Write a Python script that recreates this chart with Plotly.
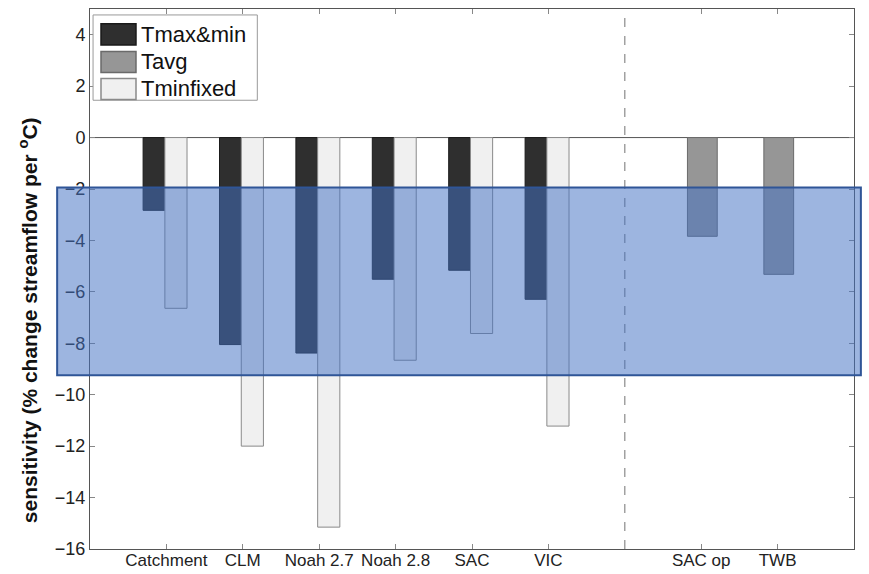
import plotly.graph_objects as go

# ---- data ----
models = ["Catchment", "CLM", "Noah 2.7", "Noah 2.8", "SAC", "VIC"]
tmaxmin = [-2.83, -8.05, -8.38, -5.51, -5.16, -6.29]
tminfixed = [-6.64, -12.0, -15.15, -8.66, -7.62, -11.22]
ops = ["SAC op", "TWB"]
tavg = [-3.84, -5.32]
band_low, band_high = -9.24, -1.94
yticks = [4, 2, 0, -2, -4, -6, -8, -10, -12, -14, -16]
series_names = ["Tmax&min", "Tavg", "Tminfixed"]
ytitle = "<b>sensitivity (% change streamflow per <sup>o</sup>C)</b>"

# positions: models at 1..n, a gap slot, then operational models
model_pos = [i + 1 for i in range(len(models))]
sep_pos = len(models) + 1
op_pos = [sep_pos + 1 + i for i in range(len(ops))]

FONT = "Liberation Sans, Arial, Helvetica, sans-serif"
fills = ["#2f2f2f", "#969696", "#f0f0f0"]
edges = ["#1a1a1a", "#6a6a6a", "#8a8a8a"]

fig = go.Figure()
fig.add_trace(go.Bar(
    x=model_pos, y=tmaxmin, name=series_names[0], showlegend=False,
    offset=-0.305, width=0.285,
    marker=dict(color=fills[0], line=dict(color=edges[0], width=1)),
))
fig.add_trace(go.Bar(
    x=op_pos, y=tavg, name=series_names[1], showlegend=False,
    offset=-0.18, width=0.39,
    marker=dict(color=fills[1], line=dict(color=edges[1], width=1)),
))
fig.add_trace(go.Bar(
    x=model_pos, y=tminfixed, name=series_names[2], showlegend=False,
    offset=-0.02, width=0.29,
    marker=dict(color=fills[2], line=dict(color=edges[2], width=1)),
))

# dashed separator
fig.add_shape(type="line", xref="x", yref="paper", x0=sep_pos, x1=sep_pos,
              y0=0, y1=1, line=dict(color="#8a8a8a", width=1.2, dash="dash"),
              layer="below")
# zero line
fig.add_shape(type="line", xref="paper", yref="y", x0=0, x1=1, y0=0, y1=0,
              line=dict(color="#555555", width=1), layer="below")

# legend box (drawn manually to get the large swatches)
fig.add_shape(type="rect", xref="paper", yref="paper",
              x0=0.004, x1=0.219, y0=0.831, y1=0.989,
              fillcolor="white", line=dict(color="#9a9a9a", width=1), layer="above")
row_y = [0.953, 0.902, 0.852]
for i, nm in enumerate(series_names):
    fig.add_shape(type="rect", xref="paper", yref="paper",
                  x0=0.0144, x1=0.0602, y0=row_y[i] - 0.0195, y1=row_y[i] + 0.0195,
                  fillcolor=fills[i], line=dict(color=edges[i], width=1.5),
                  layer="above")
    fig.add_annotation(xref="paper", yref="paper", x=0.0645, y=row_y[i],
                       text=nm, showarrow=False, xanchor="left", yanchor="middle",
                       font=dict(size=22, color="#111111", family=FONT))

# y-axis title (as an annotation so it can sit where the reference has it)
fig.add_annotation(xref="paper", yref="paper", x=-0.081, y=0.424,
                   text=ytitle, textangle=-90, showarrow=False,
                   xanchor="center", yanchor="middle",
                   font=dict(size=21, color="#111111", family=FONT))

# highlighted band
fig.add_shape(type="rect", xref="paper", yref="y", x0=-0.043, x1=1.009,
              y0=band_low, y1=band_high,
              fillcolor="rgba(68,114,196,0.52)",
              line=dict(color="#2f5597", width=2), layer="above")

fig.update_layout(
    width=869, height=574,
    margin=dict(l=90, r=15, t=9, b=25, autoexpand=False),
    paper_bgcolor="white", plot_bgcolor="white",
    barmode="overlay",
    font=dict(family=FONT, size=18, color="#222222"),
    showlegend=False,
)
fig.update_xaxes(
    range=[0, 10], tickmode="array",
    tickvals=model_pos + op_pos, ticktext=models + ops,
    ticks="inside", ticklen=5, tickcolor="#888888",
    showline=True, linecolor="#555555", linewidth=1, mirror="ticks",
    showgrid=False, zeroline=False, automargin=False,
    ticklabelstandoff=-4,
    tickfont=dict(size=17, color="#222222"),
)
fig.update_yaxes(
    range=[-16, 5], tickmode="array", tickvals=yticks,
    ticks="inside", ticklen=5, tickcolor="#888888",
    showline=True, linecolor="#555555", linewidth=1, mirror="ticks",
    showgrid=False, zeroline=False, automargin=False,
    tickfont=dict(size=18, color="#222222"),
)

fig.write_html("out.html")
